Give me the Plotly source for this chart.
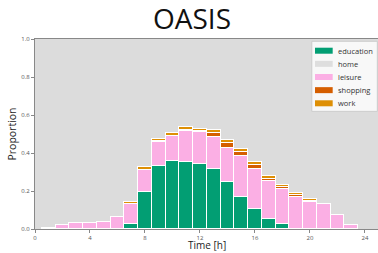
import plotly.graph_objects as go

hours = list(range(1, 24))
education = [0, 0, 0, 0, 0, 0, 0.028, 0.193, 0.330, 0.358, 0.354, 0.340, 0.314, 0.249, 0.170, 0.104, 0.051, 0.025, 0, 0, 0, 0, 0]
home = [0] * 23
leisure = [0.007, 0.019, 0.030, 0.033, 0.037, 0.065, 0.102, 0.116, 0.130, 0.131, 0.160, 0.169, 0.170, 0.179, 0.216, 0.212, 0.202, 0.185, 0.167, 0.144, 0.130, 0.074, 0.021]
shopping = [0, 0, 0, 0, 0, 0, 0.002, 0.003, 0.002, 0.003, 0.008, 0.006, 0.021, 0.025, 0.020, 0.020, 0.012, 0.010, 0.010, 0.006, 0, 0, 0]
work = [0, 0, 0, 0, 0, 0, 0.010, 0.013, 0.010, 0.012, 0.015, 0.013, 0.016, 0.017, 0.015, 0.015, 0.012, 0.012, 0.011, 0.008, 0.002, 0, 0]

series = [
    ("education", education, "#029e73"),
    ("home", home, "#dedede"),
    ("leisure", leisure, "#fbafe4"),
    ("shopping", shopping, "#d55e00"),
    ("work", work, "#de8f05"),
]

fig = go.Figure()
for name, vals, col in series:
    fig.add_trace(go.Bar(
        x=hours, y=vals, name=name, width=1, showlegend=False,
        marker=dict(color=col, line=dict(color="white", width=1)),
    ))

# compact legend box (matplotlib-like) in paper coordinates
fig.add_shape(type="rect", xref="paper", yref="paper", x0=0.807, x1=0.998, y0=0.619, y1=0.988,
              fillcolor="rgba(255,255,255,0.8)", line=dict(color="#cccccc", width=1), layer="above")
for i, (name, vals, col) in enumerate(series):
    yc = 0.9384 - i * 0.0692
    fig.add_shape(type="rect", xref="paper", yref="paper", x0=0.8163, x1=0.8679,
                  y0=yc - 0.0158, y1=yc + 0.0158, fillcolor=col, line=dict(width=0), layer="above")
    fig.add_annotation(x=0.8767, y=yc, xref="paper", yref="paper", text=name, showarrow=False,
                       xanchor="left", yanchor="middle", font=dict(size=7.5, color="#333"))

# x-axis title
fig.add_annotation(x=0.5, y=-0.1263, xref="paper", yref="paper", text="Time [h]", showarrow=False,
                   xanchor="center", yanchor="bottom", borderpad=0,
                   font=dict(size=10, color="#222"))

fig.update_layout(
    width=378, height=253,
    margin=dict(l=35, r=0, t=39, b=24, autoexpand=False),
    barmode="stack", bargap=0,
    paper_bgcolor="white", plot_bgcolor="#dcdcdc",
    font=dict(family="Open Sans", color="#222"),
    title=dict(text="OASIS", x=0.508, xref="container", xanchor="center",
               y=0.925, yref="container", yanchor="middle",
               font=dict(size=28, family="Open Sans", color="#111")),
    showlegend=False,
)
fig.update_xaxes(range=[0, 24.95], tickvals=[0, 4, 8, 12, 16, 20, 24], ticks="outside",
                 ticklen=3, tickcolor="#888", showgrid=False, zeroline=False, automargin=False,
                 showline=True, linecolor="#888", linewidth=1, mirror=True,
                 tickfont=dict(size=6, color="#555"))
fig.update_yaxes(range=[0, 1.0], tickvals=[0, 0.2, 0.4, 0.6, 0.8, 1.0],
                 ticktext=["0.0", "0.2", "0.4", "0.6", "0.8", "1.0"], ticks="outside",
                 ticklen=3, tickcolor="#888", showgrid=False, zeroline=False, automargin=False,
                 showline=True, linecolor="#888", linewidth=1, mirror=True,
                 tickfont=dict(size=6, color="#555"),
                 title=dict(text="Proportion", font=dict(size=10.5, color="#222"), standoff=2))

fig.write_html("out.html", config={"displayModeBar": False},
               post_script="document.body.style.margin='0';document.body.style.overflow='hidden';")
